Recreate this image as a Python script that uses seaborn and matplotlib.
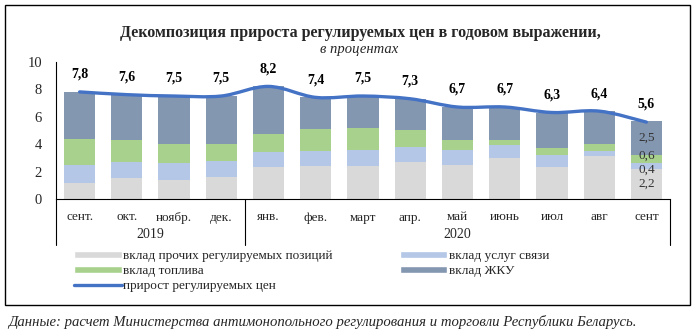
import numpy as np
import pandas as pd
import seaborn as sns
import matplotlib
matplotlib.use("Agg")
import matplotlib.pyplot as plt
from matplotlib.path import Path
from matplotlib.patches import PathPatch, Rectangle, Patch
from matplotlib.lines import Line2D
from matplotlib.transforms import blended_transform_factory

# ---- data ----
months = ["сент.", "окт.", "ноябр.", "дек.", "янв.", "фев.", "март", "апр.",
          "май", "июнь", "июл", "авг", "сент"]
years = ["2019", "2020"]
year_spans = [4, 9]
other = [1.2, 1.5, 1.4, 1.6, 2.3, 2.4, 2.4, 2.7, 2.5, 3.0, 2.3, 3.1, 2.2]
comm = [1.3, 1.2, 1.2, 1.2, 1.1, 1.1, 1.2, 1.1, 1.1, 0.9, 0.9, 0.4, 0.4]
fuel = [1.9, 1.6, 1.4, 1.2, 1.3, 1.6, 1.6, 1.2, 0.7, 0.4, 0.5, 0.5, 0.6]
zhku = [3.4, 3.3, 3.5, 3.5, 3.5, 2.3, 2.3, 2.3, 2.4, 2.4, 2.6, 2.4, 2.5]
total = [7.8, 7.6, 7.5, 7.5, 8.2, 7.4, 7.5, 7.3, 6.7, 6.7, 6.3, 6.4, 5.6]

labels = ["вклад прочих регулируемых позиций", "вклад услуг связи",
          "вклад топлива", "вклад ЖКУ"]
line_label = "прирост регулируемых цен"
colors = ["#d9d9d9", "#b4c7e7", "#a9d18e", "#8497b0"]
line_color = "#4472c4"

sns.set_theme(style="white")
plt.rcParams["font.family"] = ["Liberation Serif", "DejaVu Serif"]

fig = plt.figure(figsize=(6.97, 3.36), dpi=100)
ax = fig.add_axes([56 / 697, 1 - 199 / 336, 614 / 697, (199 - 61.7) / 336])

components = [other, comm, fuel, zhku]
bottom = np.zeros(len(months))
for vals, col, lab in zip(components, colors, labels):
    sns.barplot(x=months, y=vals, bottom=bottom, color=col, saturation=1,
                width=0.66, order=months, ax=ax, linewidth=0, label=lab)
    bottom = bottom + np.array(vals)

# smoothed line (cubic Bezier through the data points)
xs = np.arange(len(total), dtype=float)
ys = np.array(total, dtype=float)
P = np.column_stack([xs, ys])
Pext = np.vstack([P[0], P, P[-1]])
verts = [tuple(P[0])]
codes = [Path.MOVETO]
for i in range(len(P) - 1):
    p0, p1, p2, p3 = Pext[i], Pext[i + 1], Pext[i + 2], Pext[i + 3]
    c1 = p1 + (p2 - p0) / 6.0
    c2 = p2 - (p3 - p1) / 6.0
    verts += [tuple(c1), tuple(c2), tuple(p2)]
    codes += [Path.CURVE4] * 3
ax.add_patch(PathPatch(Path(verts, codes), facecolor="none",
                       edgecolor=line_color, lw=2.4, zorder=5,
                       capstyle="round"))

for x, v in zip(xs, total):
    ax.annotate(f"{v:.1f}".replace(".", ","), (x, v), xytext=(0, 8),
                textcoords="offset points", ha="center", va="bottom",
                fontsize=10, fontweight="bold", color="#000000")

# labels inside last bar
last = len(months) - 1
cum = 0.0
nudges = [0, -2.5, 2.5, 0]
for vals, nd in zip(components, nudges):
    v = vals[last]
    ax.annotate(f"{v:.1f}".replace(".", ","), (last, cum + v / 2),
                xytext=(0, nd), textcoords="offset points", ha="center",
                va="center", fontsize=9.5, color="#333333", zorder=6)
    cum += v

ax.set_ylim(0, 10)
ax.set_xlim(-0.5, len(months) - 0.5)
ax.set_yticks([0, 2, 4, 6, 8, 10])
ax.set_yticklabels(["0", "2", "4", "6", "8", "10"], fontsize=10.5)
ax.tick_params(axis="y", length=0, pad=10)
ax.tick_params(axis="x", length=0, pad=9)
ax.set_xticks(range(len(months)))
ax.set_xticklabels(months, fontsize=9.5)
ax.set_xlabel("")
ax.set_ylabel("")
for s in ["top", "right"]:
    ax.spines[s].set_visible(False)
ax.spines["left"].set_color("#000000")
ax.spines["bottom"].set_color("#000000")
ax.spines["left"].set_linewidth(0.8)
ax.spines["bottom"].set_linewidth(0.8)
if ax.get_legend() is not None:
    ax.get_legend().remove()

# category table lines and year labels
tr = blended_transform_factory(ax.transData, ax.transAxes)
depth = -(245 - 199) / (199 - 61.7)
edges = [-0.5]
for sp in year_spans:
    edges.append(edges[-1] + sp)
for e in edges:
    ax.add_line(Line2D([e, e], [0, depth], transform=tr, color="#000000",
                       lw=0.8, clip_on=False))
for i, yl in enumerate(years):
    mid = (edges[i] + edges[i + 1]) / 2
    ax.text(mid, -(234 - 199) / (199 - 61.7), yl, transform=tr, ha="center",
            va="center", fontsize=10)

# title
fig.text(360 / 697, 1 - 33 / 336,
         "Декомпозиция прироста регулируемых цен в годовом выражении,",
         ha="center", va="center", fontsize=11.5, fontweight="bold")
fig.text(359 / 697, 1 - 49 / 336, "в процентах", ha="center", va="center",
         fontsize=10.5, style="italic")

# legend
h_other = Patch(facecolor=colors[0], label=labels[0])
h_comm = Patch(facecolor=colors[1], label=labels[1])
h_fuel = Patch(facecolor=colors[2], label=labels[2])
h_zhku = Patch(facecolor=colors[3], label=labels[3])
h_line = Line2D([], [], color=line_color, lw=2.4, label=line_label)
fig.legend(handles=[h_other, h_fuel, h_line, h_comm, h_zhku],
           loc="upper left", bbox_to_anchor=(69 / 697, 1 - 245 / 336),
           ncol=2, frameon=False, fontsize=9.5, handlelength=3.6,
           handleheight=0.45, handletextpad=0.1, labelspacing=0.22,
           columnspacing=5.1, borderaxespad=0)

# outer border
fig.patches.append(Rectangle((5 / 697, 1 - 305 / 336), 685 / 697, 300 / 336,
                             transform=fig.transFigure, fill=False,
                             edgecolor="#000000", lw=1.0))

fig.text(8 / 697, 1 - 322 / 336,
         "Данные: расчет Министерства антимонопольного регулирования и торговли Республики Беларусь.",
         ha="left", va="center", fontsize=10.6, style="italic")

fig.savefig("out.png", dpi=100)
